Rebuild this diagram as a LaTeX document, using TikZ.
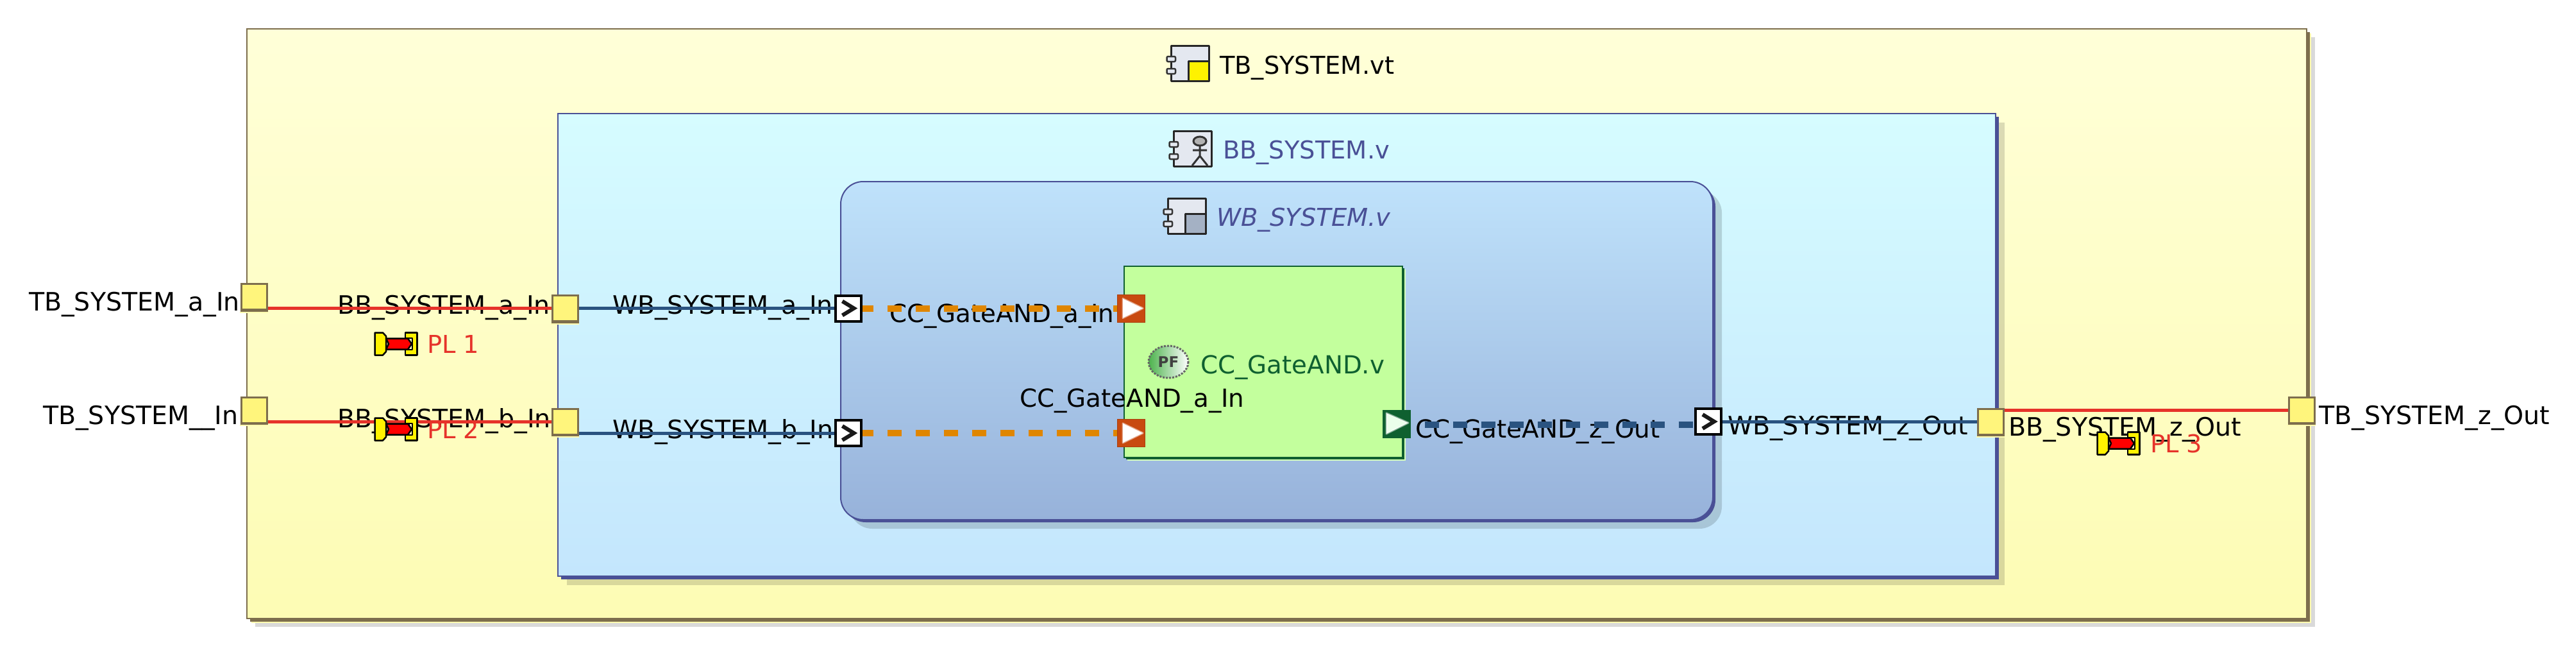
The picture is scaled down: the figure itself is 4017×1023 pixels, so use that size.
\documentclass[tikz,border=0pt]{standalone}
\usepackage{fontspec}
\setmainfont{DejaVu Sans}
\definecolor{tbline}{HTML}{7D6E4D}
\definecolor{tbtop}{HTML}{FFFFD8}
\definecolor{tbbot}{HTML}{FDFCB4}
\definecolor{bbtop}{HTML}{D6FCFF}
\definecolor{bbbot}{HTML}{C4E6FD}
\definecolor{bbline}{HTML}{4A5096}
\definecolor{wbtop}{HTML}{BFE2FB}
\definecolor{wbbot}{HTML}{97B2DA}
\definecolor{ccfill}{HTML}{C3FF9D}
\definecolor{ccline}{HTML}{0F6030}
\definecolor{redline}{HTML}{E6332A}
\definecolor{blueline}{HTML}{2A5380}
\definecolor{orangeline}{HTML}{E08600}
\definecolor{portfill}{HTML}{FFF57C}
\definecolor{portpale}{HTML}{FFFBB0}
\definecolor{ccport}{HTML}{C84A10}
\definecolor{iconfill}{HTML}{E4E8F0}
\pgfdeclarelayer{bg}
\pgfdeclarelayer{wires}
\pgfsetlayers{bg,wires,main}
\tikzset{
  lbl/.style={anchor=base west,inner sep=0pt,outer sep=0pt,text=black,font=\fontsize{38.4}{44}\selectfont},
  syslbl/.style={lbl,font=\fontsize{39.5}{44}\selectfont},
  cclbl/.style={lbl,font=\fontsize{38.8}{44}\selectfont},
  pllbl/.style={lbl,text=redline},
  frame/.style={draw=#1,line width=2pt,inner sep=0pt,outer sep=0pt},
  yport/.style={draw=tbline,line width=3pt,fill=portfill,minimum width=40pt,minimum height=40pt,inner sep=0pt,outer sep=0pt},
  wport/.style={draw=black,line width=4pt,fill=white,minimum width=40pt,minimum height=40pt,inner sep=0pt,outer sep=0pt},
  oport/.style={draw=ccport!85!black,line width=1pt,fill=ccport,minimum width=43pt,minimum height=43pt,inner sep=0pt,outer sep=0pt},
  gport/.style={draw=ccline,line width=1pt,fill=ccline,minimum width=43pt,minimum height=43pt,inner sep=0pt,outer sep=0pt},
  softshadow/.style={fill=black,fill opacity=#1},
  redwire/.style={draw=redline,line width=5pt},
  bluewire/.style={draw=blueline,line width=5pt},
  orangewire/.style={draw=orangeline,line width=10pt,dash pattern=on 22pt off 22pt,dash phase=3pt},
  bluedash/.style={draw=blueline,line width=10pt,dash pattern=on 22pt off 22pt,dash phase=22pt},
  pics/plicon/.style={code={
    \draw[black,line width=2.5pt,line join=round,fill=yellow] (1.5,1.5) -- (14,1.5) -- (19,7) -- (19,31) -- (14,36.5) -- (1.5,36.5) -- cycle;
    \draw[black,line width=2.5pt,line join=round,fill=yellow] (49,1.5) -- (67.5,1.5) -- (67.5,36.5) -- (49,36.5) -- (49,28) -- (60,28) -- (60,10) -- (49,10) -- cycle;
    \draw[black,line width=2.5pt,line join=round,fill=red] (19,10.5) -- (53,10.5) -- (59,19) -- (53,27.5) -- (19,27.5) -- (23,19) -- cycle;
  }},
  pics/compicon/.style={code={
    \draw[black!85,line width=3pt,line join=round,fill=iconfill] (8,1.5) -- (67.5,1.5) -- (67.5,56.5) -- (8,56.5) -- cycle;
    \draw[black!80,line width=2.5pt,fill=iconfill,rounded corners=2pt] (1.5,18) rectangle (15,26);
    \draw[black!80,line width=2.5pt,fill=iconfill,rounded corners=2pt] (1.5,37) rectangle (15,45);
  }},
  pics/compfill/.style={code={
    \draw[black!85,line width=3pt,line join=round,fill=#1] (35,25) rectangle (67.5,56.5);
  }}
}
\newcommand{\frameback}[7]{% x1 y1 x2 y2 radius offset style
  \fill[#7,rounded corners=#5] (#1+#6,#2+#6) rectangle (#3+#6,#4+#6);
}
\begin{document}
\begin{tikzpicture}[x=1pt,y=-1pt]
\useasboundingbox (0,0) rectangle (4017,1023);
\begin{pgfonlayer}{bg}
% --- containers
\frameback{385}{45}{3597}{964}{0pt}{13}{softshadow=.15}
\frameback{385}{45}{3597}{964}{0pt}{7}{fill=portpale}
\frameback{385}{45}{3597}{964}{0pt}{5}{fill=tbline}
\node[frame=tbline,top color=tbtop,bottom color=tbbot,minimum width=3212pt,minimum height=919pt] (tb) at (1991,504.5) {};
\frameback{870}{177}{3112}{898}{0pt}{14}{softshadow=.14}
\frameback{870}{177}{3112}{898}{0pt}{5}{fill=bbline}
\node[frame=bbline,top color=bbtop,bottom color=bbbot,minimum width=2242pt,minimum height=721pt] (bb) at (1991,537.5) {};
\frameback{1311}{283}{2671}{810}{35pt}{14}{softshadow=.15}
\frameback{1311}{283}{2671}{810}{35pt}{4}{fill=bbline}
\node[frame=bbline,top color=wbtop,bottom color=wbbot,minimum width=1360pt,minimum height=527pt,rounded corners=35pt] (wb) at (1991,546.5) {};
\frameback{1753}{415}{2187}{713}{0pt}{5}{fill=ccfill!70!white}
\frameback{1753}{415}{2187}{713}{0pt}{3}{fill=ccline}
\node[frame=ccline,fill=ccfill,minimum width=434pt,minimum height=298pt] (cc) at (1970,564) {};
% --- labels
\node[lbl] (ttb) at (1902,115) {TB\_SYSTEM.vt};
\node[lbl,text=bbline] (ttbb) at (1907,247) {BB\_SYSTEM.v};
\node[lbl,text=bbline,font=\fontsize{38.4}{44}\selectfont\itshape] (twb) at (1897,352) {WB\_SYSTEM.v};
\node[cclbl,text=ccline] (tcc) at (1872,582) {CC\_GateAND.v};
\node[syslbl] (lta) at (45,484) {TB\_SYSTEM\_a\_In};
\node[syslbl] (ltb) at (67,661) {TB\_SYSTEM\_\_In};
\node[syslbl] (ltz) at (3616,661) {TB\_SYSTEM\_z\_Out};
\node[syslbl] (lba) at (526,489) {BB\_SYSTEM\_a\_In};
\node[syslbl] (lbb) at (526,666) {BB\_SYSTEM\_b\_In};
\node[syslbl] (lbz) at (3132,679) {BB\_SYSTEM\_z\_Out};
\node[syslbl] (lwa) at (955,489) {WB\_SYSTEM\_a\_In};
\node[syslbl] (lwb) at (955,683) {WB\_SYSTEM\_b\_In};
\node[syslbl] (lwz) at (2694,677) {WB\_SYSTEM\_z\_Out};
\node[cclbl] (lca) at (1387,502) {CC\_GateAND\_a\_In};
\node[cclbl] (lcb) at (1590,634) {CC\_GateAND\_a\_In};
\node[cclbl] (lcz) at (2207,682) {CC\_GateAND\_z\_Out};
\end{pgfonlayer}
% --- ports
\node[yport] (tba) at (396,462.5) {};
\node[yport] (tbb) at (396,639) {};
\node[yport] (tbz) at (3589,639) {};
\node[yport] (bba) at (881,480.5) {};
\node[yport] (bbb) at (881,657) {};
\node[yport] (bbz) at (3104,657) {};
\node[wport] (wba) at (1322.5,480.5) {};
\node[wport] (wbb) at (1322.5,675) {};
\node[wport] (wbz) at (2664,657) {};
\node[oport] (cca) at (1764,480.5) {};
\node[oport] (ccb) at (1764,675) {};
\node[gport] (ccz) at (2178,661) {};
% --- connectors, under the ports
\begin{pgfonlayer}{wires}
\draw[redwire] (bba.west) -- (bba.west -| tba.east);
\draw[redwire] (bbb.west) -- (bbb.west -| tbb.east);
\draw[redwire] (tbz.west) -- (tbz.west -| bbz.east);
\draw[bluewire] (bba.east) -- (wba.west);
\draw[bluewire] (wbb.west) -- (wbb.west -| bbb.east);
\draw[bluewire] (bbz.west) -- (wbz.east);
\draw[orangewire] (wba.east) -- (cca.west);
\draw[orangewire] (wbb.east) -- (ccb.west);
\draw[bluedash] (ccz.east) ++(0,1) -- ([yshift=-1pt]ccz.east -| wbz.west);
\end{pgfonlayer}
% --- port glyphs
\foreach \n in {tba,tbb,tbz,bba,bbb,bbz}{
  \draw[portpale,line width=2pt] ([shift={(-2,4)}]\n.south west) -- ([shift={(2,4)}]\n.south east);
  \draw[tbline,line width=4pt] ([shift={(-1.5,1)}]\n.south west) -- ([shift={(1.5,1)}]\n.south east);
}
\foreach \n in {wba,wbb,wbz}{
  \draw[black!90,line width=6pt,miter limit=10] ([shift={(-9,-11)}]\n.center) -- ([shift={(9,0)}]\n.center) -- ([shift={(-9,11)}]\n.center);
}
\foreach \n in {cca,ccb}{
  \fill[white,draw=white,draw opacity=.5,line width=3pt,line join=round] ([shift={(-13,-15)}]\n.center) -- ([shift={(18,0)}]\n.center) -- ([shift={(-13,15)}]\n.center) -- cycle;
}
\fill[white!92!green,draw=white,draw opacity=.5,line width=3pt,line join=round] ([shift={(-16,-17)}]ccz.center) -- ([shift={(18,-2)}]ccz.center) -- ([shift={(-16,15)}]ccz.center) -- cycle;
% --- probes
\node[pllbl] (pl1) at (666,550) {PL 1};
\node[pllbl] (pl2) at (666,683) {PL 2};
\node[pllbl] (pl3) at (3353,705) {PL 3};
\pic at (583,517) {plicon};
\pic at (583,650) {plicon};
\pic at (3269,672) {plicon};
% --- title icons
\pic at (1818,70) {compicon};
\pic at (1818,70) {compfill=yellow};
\pic at (1822,203) {compicon};
\begin{scope}[shift={(1822,203)}]
  \draw[black!80,line width=3pt,fill=black!30] (49,17) ellipse (10 and 7);
  \draw[black!80,line width=3pt] (49,24) -- (49,40) (38,31) -- (60,31) (49,40) -- (37,55) (49,40) -- (61,55);
\end{scope}
\pic at (1813,308) {compicon};
\pic at (1813,308) {compfill={wbbot!60!gray!80!white}};
% --- PF badge
\shade[left color=green!40!gray,right color=white,draw=black!60,densely dashed,line width=3pt] (1822,564) ellipse (31 and 25);
\node[inner sep=0pt,text=black!75,font=\fontsize{23}{26}\selectfont\bfseries] (pftxt) at (1822,564) {PF};
\end{tikzpicture}
\end{document}
